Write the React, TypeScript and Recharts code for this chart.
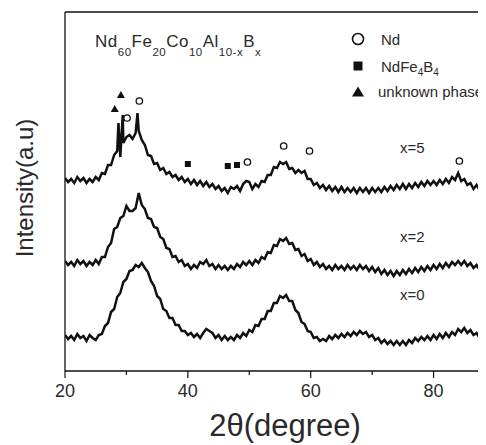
import React from 'react';
import { ComposedChart, Line, XAxis, YAxis, ReferenceLine, Scatter, Customized } from 'recharts';

const FONT = 'Liberation Sans, Arial, Helvetica, sans-serif';

const ANGLES = [
  20, 20.5, 21, 21.5, 22, 22.5, 23, 23.5, 24, 24.5,
  25, 25.5, 26, 26.5, 27, 27.5, 28, 28.5, 29, 29.5,
  30, 30.5, 31, 31.5, 32, 32.5, 33, 33.5, 34, 34.5,
  35, 35.5, 36, 36.5, 37, 37.5, 38, 38.5, 39, 39.5,
  40, 40.5, 41, 41.5, 42, 42.5, 43, 43.5, 44, 44.5,
  45, 45.5, 46, 46.5, 47, 47.5, 48, 48.5, 49, 49.5,
  50, 50.5, 51, 51.5, 52, 52.5, 53, 53.5, 54, 54.5,
  55, 55.5, 56, 56.5, 57, 57.5, 58, 58.5, 59, 59.5,
  60, 60.5, 61, 61.5, 62, 62.5, 63, 63.5, 64, 64.5,
  65, 65.5, 66, 66.5, 67, 67.5, 68, 68.5, 69, 69.5,
  70, 70.5, 71, 71.5, 72, 72.5, 73, 73.5, 74, 74.5,
  75, 75.5, 76, 76.5, 77, 77.5, 78, 78.5, 79, 79.5,
  80, 80.5, 81, 81.5, 82, 82.5, 83, 83.5, 84, 84.5,
  85, 85.5, 86, 86.5, 87, 87.5, 88, 88.5, 89, 89.5,
  90,
];

const X0 = [
  36, 32, 35, 31, 37, 33, 35, 30, 36, 33,
  31, 36, 37, 45, 48, 59, 62, 74, 78, 89,
  92, 100, 101, 106, 104, 108, 103, 99, 90, 85,
  75, 72, 62, 60, 53, 53, 46, 46, 40, 40,
  36, 38, 34, 37, 33, 38, 42, 40, 38, 33,
  36, 31, 35, 31, 34, 31, 36, 33, 38, 35,
  41, 39, 46, 45, 52, 52, 60, 60, 68, 68,
  75, 73, 76, 70, 70, 61, 58, 49, 47, 40,
  39, 33, 34, 30, 32, 30, 35, 32, 36, 33,
  37, 34, 38, 35, 39, 36, 40, 37, 39, 34,
  36, 31, 33, 28, 31, 27, 30, 26, 30, 26,
  30, 26, 31, 28, 33, 30, 34, 31, 35, 31,
  36, 32, 37, 33, 38, 34, 39, 36, 42, 39,
  43, 38, 41, 36, 38, 33, 36, 31, 35, 31,
  34,
];

const X2 = [
  110, 106, 109, 105, 111, 107, 110, 105, 109, 106,
  111, 107, 114, 114, 124, 128, 142, 144, 153, 155,
  165, 160, 160, 163, 178, 166, 162, 153, 152, 144,
  143, 134, 132, 123, 122, 114, 115, 109, 111, 105,
  107, 102, 106, 103, 109, 107, 111, 105, 107, 102,
  106, 102, 105, 101, 105, 102, 107, 104, 109, 106,
  110, 106, 111, 108, 114, 112, 119, 118, 126, 125,
  132, 130, 133, 127, 128, 121, 122, 115, 117, 110,
  112, 106, 109, 104, 107, 102, 105, 101, 106, 102,
  105, 101, 106, 102, 105, 101, 106, 102, 105, 100,
  104, 99, 103, 97, 101, 96, 100, 95, 100, 96,
  101, 97, 102, 98, 103, 99, 104, 100, 105, 101,
  106, 102, 107, 103, 108, 104, 109, 106, 110, 106,
  110, 105, 108, 103, 106, 101, 103, 98, 102, 98,
  101,
];

const X5 = [
  193, 189, 192, 188, 194, 190, 193, 188, 192, 189,
  194, 191, 198, 197, 206, 206, 216, 220, 214, 228,
  234, 236, 232, 238, 240, 231, 226, 216, 215, 207,
  208, 201, 203, 197, 199, 194, 196, 191, 194, 189,
  192, 187, 191, 186, 190, 185, 189, 184, 187, 182,
  185, 180, 183, 178, 184, 182, 185, 180, 187, 190,
  189, 182, 187, 184, 190, 189, 196, 196, 204, 203,
  209, 207, 209, 202, 203, 198, 201, 198, 200, 192,
  192, 186, 188, 183, 186, 181, 185, 180, 184, 179,
  184, 179, 183, 179, 183, 178, 183, 179, 183, 178,
  183, 179, 183, 179, 184, 180, 185, 181, 186, 182,
  187, 182, 187, 183, 188, 184, 189, 185, 190, 186,
  190, 186, 191, 187, 192, 188, 194, 191, 198, 190,
  192, 186, 188, 182, 186, 181, 184, 179, 183, 179,
  182,
];

// sharp crystalline spikes on the x=5 pattern
const X5_SPIKE_ANGLES = [28.7, 29.4, 31.8];
const X5_SPIKE_VALUES = [248, 256, 258];

// phase markers
const ND_ANGLES = [30.1, 32.1, 49.7, 55.6, 59.8, 84.2];
const ND_VALUES = [253, 270, 209, 225, 220, 210];
const NDFEB_ANGLES = [40.0, 46.5, 48.0];
const NDFEB_VALUES = [207, 205, 206];
const UNKNOWN_ANGLES = [28.1, 29.1];
const UNKNOWN_VALUES = [262, 276];

const X_TICKS = [20, 30, 40, 50, 60, 70, 80, 90];
const X_LABELED = [20, 40, 60, 80];

const build = (xs: number[], ys: number[], exX: number[] = [], exY: number[] = []) => {
  const pts = xs.map((x, i) => ({ x, y: ys[i] }));
  exX.forEach((x, i) => pts.push({ x, y: exY[i] }));
  return pts.sort((a, b) => a.x - b.x);
};

const data0 = build(ANGLES, X0);
const data2 = build(ANGLES, X2);
const data5 = build(ANGLES, X5, X5_SPIKE_ANGLES, X5_SPIKE_VALUES);
const ndPts = build(ND_ANGLES, ND_VALUES);
const ndfebPts = build(NDFEB_ANGLES, NDFEB_VALUES);
const unkPts = build(UNKNOWN_ANGLES, UNKNOWN_VALUES);

const INK = '#111';
const TXT = '#2a2a2a';

const Tick = (props: any) => {
  const { x, y, payload } = props;
  const major = X_LABELED.includes(payload.value);
  return (
    <g>
      <line x1={x} x2={x} y1={y} y2={y + (major ? 7 : 4)} stroke={INK} strokeWidth={1.2} />
      {major && (
        <text x={x} y={y + 26} textAnchor="middle" fontSize={18} fontFamily={FONT} fill={TXT}>
          {payload.value}
        </text>
      )}
    </g>
  );
};

const CircleShape = (p: any) => (
  <circle cx={p.cx} cy={p.cy} r={3.2} fill="#fff" stroke={INK} strokeWidth={1.3} />
);
const SquareShape = (p: any) => (
  <rect x={p.cx - 3} y={p.cy - 3} width={6} height={6} fill={INK} />
);
const TriShape = (p: any) => (
  <polygon points={`${p.cx},${p.cy - 4} ${p.cx - 4},${p.cy + 3} ${p.cx + 4},${p.cy + 3}`} fill={INK} />
);

const Decor = () => (
  <g fontFamily={FONT} fill={TXT}>
    <text x={87} y={39} fontSize={17} letterSpacing={0.5}>
      Nd<tspan fontSize={11.5} dy={9}>60</tspan>
      <tspan dy={-9}>Fe</tspan><tspan fontSize={11.5} dy={9}>20</tspan>
      <tspan dy={-9}>Co</tspan><tspan fontSize={11.5} dy={9}>10</tspan>
      <tspan dy={-9}>Al</tspan><tspan fontSize={11.5} dy={9}>10-x</tspan>
      <tspan dy={-9}>B</tspan><tspan fontSize={11.5} dy={9}>x</tspan>
    </text>
    <circle cx={350} cy={31} r={5.5} fill="#fff" stroke={INK} strokeWidth={1.6} />
    <text x={373} y={37} fontSize={15}>Nd</text>
    <rect x={345.5} y={53.5} width={9} height={9} fill={INK} />
    <text x={373} y={63.5} fontSize={15}>
      NdFe<tspan fontSize={10} dy={4}>4</tspan><tspan dy={-4}>B</tspan><tspan fontSize={10} dy={4}>4</tspan>
    </text>
    <polygon points="350,78.5 344,88.5 356,88.5" fill={INK} />
    <text x={370} y={88.5} fontSize={15}>unknown phase</text>
    <text x={392} y={145} fontSize={15}>x=5</text>
    <text x={392} y={233.5} fontSize={15}>x=2</text>
    <text x={392} y={292} fontSize={15}>x=0</text>
    <text x={25} y={180} fontSize={24} textAnchor="middle" transform="rotate(-90, 25, 180)">
      Intensity(a.u)
    </text>
    <text x={277} y={428} fontSize={31} textAnchor="middle">2θ(degree)</text>
  </g>
);

export default function App() {
  return (
    <div style={{ width: 478, height: 437, overflow: 'hidden' }}>
      <ComposedChart width={500} height={437} margin={{ top: 4, right: 13, bottom: 0, left: 0 }}>
        <XAxis
          dataKey="x"
          type="number"
          domain={[20, 90]}
          ticks={X_TICKS}
          interval={0}
          height={74}
          tickSize={0}
          tickMargin={0}
          tickLine={false}
          tick={<Tick />}
          axisLine={{ stroke: INK, strokeWidth: 1.3 }}
          allowDataOverflow
        />
        <YAxis
          dataKey="y"
          type="number"
          domain={[0, 359]}
          width={57}
          tick={false}
          tickLine={false}
          axisLine={{ stroke: INK, strokeWidth: 1.3 }}
          allowDataOverflow
        />
        <ReferenceLine y={359} stroke={INK} strokeWidth={1.3} />
        <Line data={data0} dataKey="y" type="linear" stroke={INK} strokeWidth={2.5} strokeLinejoin="miter" dot={false} isAnimationActive={false} />
        <Line data={data2} dataKey="y" type="linear" stroke={INK} strokeWidth={2.5} strokeLinejoin="miter" dot={false} isAnimationActive={false} />
        <Line data={data5} dataKey="y" type="linear" stroke={INK} strokeWidth={2.5} strokeLinejoin="miter" dot={false} isAnimationActive={false} />
        <Scatter data={ndPts} dataKey="y" shape={CircleShape} isAnimationActive={false} />
        <Scatter data={ndfebPts} dataKey="y" shape={SquareShape} isAnimationActive={false} />
        <Scatter data={unkPts} dataKey="y" shape={TriShape} isAnimationActive={false} />
        <Customized component={Decor} />
      </ComposedChart>
    </div>
  );
}
